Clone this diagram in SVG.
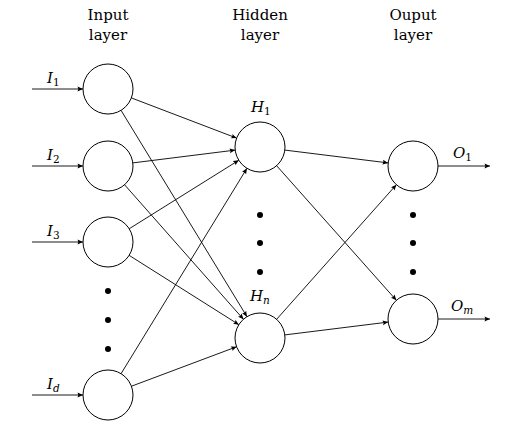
<svg xmlns="http://www.w3.org/2000/svg" width="508" height="427" viewBox="0 0 508 427">
<style>
.n{fill:#fff;stroke:#000;stroke-width:1}
.e{fill:none;stroke:#000;stroke-width:0.9;marker-end:url(#ah)}
.t{font-family:"DejaVu Serif",serif;font-size:15px;fill:#000}
.m{font-family:"DejaVu Serif",serif;font-size:15px;font-style:italic;fill:#000}
.s{font-size:10.5px;font-style:normal}
.si{font-size:10.5px;font-style:italic}
.d{fill:#000}
</style>
<defs>
<marker id="ah" viewBox="-6 -3 7 6" refX="0" refY="0" markerWidth="7" markerHeight="6" markerUnits="userSpaceOnUse" orient="auto">
<path d="M0,0 L-5.5,-2.4 Q-3.8,0 -5.5,2.4 Z" fill="#000"/>
</marker>
</defs>
<rect width="508" height="427" fill="#fff"/>
<g id="titles">
<text class="t" x="108" y="19.5" text-anchor="middle">Input</text>
<text class="t" x="108" y="39.5" text-anchor="middle">layer</text>
<text class="t" x="260" y="19.5" text-anchor="middle">Hidden</text>
<text class="t" x="260" y="39.5" text-anchor="middle">layer</text>
<text class="t" x="413" y="19.5" text-anchor="middle">Ouput</text>
<text class="t" x="413" y="39.5" text-anchor="middle">layer</text>
</g>
<g id="connectors">
<line class="e" x1="32" y1="89" x2="83" y2="89"/>
<line class="e" x1="32" y1="166" x2="83" y2="166"/>
<line class="e" x1="32" y1="242" x2="83" y2="242"/>
<line class="e" x1="32" y1="395" x2="83" y2="395"/>
<line class="e" x1="131.36" y1="97.91" x2="236.64" y2="138.09"/>
<line class="e" x1="121.03" y1="110.34" x2="246.97" y2="316.66"/>
<line class="e" x1="132.81" y1="162.9" x2="235.19" y2="150.1"/>
<line class="e" x1="124.55" y1="184.73" x2="243.45" y2="319.27"/>
<line class="e" x1="129.2" y1="228.75" x2="238.8" y2="160.25"/>
<line class="e" x1="129.14" y1="255.35" x2="238.86" y2="324.65"/>
<line class="e" x1="121.06" y1="373.68" x2="246.94" y2="168.32"/>
<line class="e" x1="131.41" y1="386.22" x2="236.59" y2="346.78"/>
<line class="e" x1="284.81" y1="150.08" x2="388.19" y2="162.92"/>
<line class="e" x1="276.62" y1="165.68" x2="396.38" y2="300.32"/>
<line class="e" x1="276.62" y1="319.32" x2="396.38" y2="184.68"/>
<line class="e" x1="284.81" y1="334.92" x2="388.19" y2="322.08"/>
<line class="e" x1="438" y1="166" x2="490" y2="166"/>
<line class="e" x1="438" y1="319" x2="490" y2="319"/>
</g>
<g id="I1"><circle class="n" cx="108" cy="89" r="25"/><text class="m" x="47" y="82.5">I<tspan class="s" dy="3">1</tspan></text></g>
<g id="I2"><circle class="n" cx="108" cy="166" r="25"/><text class="m" x="47" y="159.5">I<tspan class="s" dy="3">2</tspan></text></g>
<g id="I3"><circle class="n" cx="108" cy="242" r="25"/><text class="m" x="47" y="235.5">I<tspan class="s" dy="3">3</tspan></text></g>
<g id="Id"><circle class="n" cx="108" cy="395" r="25"/><text class="m" x="47" y="388.5">I<tspan class="si" dy="3">d</tspan></text></g>
<g id="input-dots"><circle class="d" cx="108" cy="291" r="3"/><circle class="d" cx="108" cy="320" r="3"/><circle class="d" cx="108" cy="349" r="3"/></g>
<g id="H1"><circle class="n" cx="260" cy="147" r="25"/><text class="m" x="251" y="112">H<tspan class="s" dy="3">1</tspan></text></g>
<g id="hidden-dots"><circle class="d" cx="260" cy="215" r="3"/><circle class="d" cx="260" cy="243" r="3"/><circle class="d" cx="260" cy="272" r="3"/></g>
<g id="Hn"><circle class="n" cx="260" cy="338" r="25"/><text class="m" x="250" y="301">H<tspan class="si" dy="3">n</tspan></text></g>
<g id="O1"><circle class="n" cx="413" cy="166" r="25"/><text class="m" x="453" y="157.5">O<tspan class="s" dy="3">1</tspan></text></g>
<g id="output-dots"><circle class="d" cx="413" cy="215" r="3"/><circle class="d" cx="413" cy="243" r="3"/><circle class="d" cx="413" cy="272" r="3"/></g>
<g id="Om"><circle class="n" cx="413" cy="319" r="25"/><text class="m" x="451" y="310.5">O<tspan class="si" dy="3">m</tspan></text></g>
</svg>
